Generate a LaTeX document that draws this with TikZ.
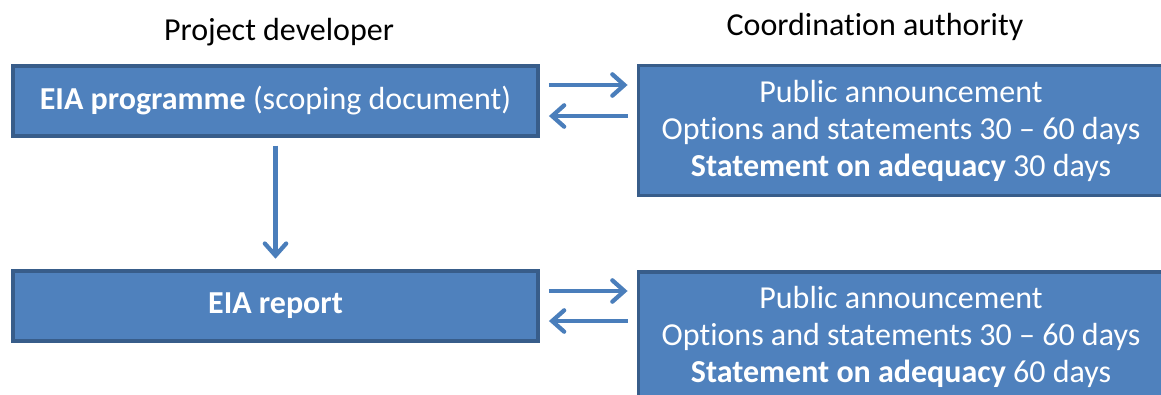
\documentclass[tikz,border=0pt]{standalone}
\usepackage{fontspec}
\setmainfont[Ligatures=NoCommon]{Carlito}
\usetikzlibrary{arrows.meta,calc}
\definecolor{boxfill}{HTML}{4F81BD}
\definecolor{boxline}{HTML}{385D8A}
\definecolor{arrowcol}{HTML}{4A7EBB}
\tikzset{
  stagebox/.style={draw=boxline, line width=2.4pt, fill=boxfill, text=white,
    inner sep=0pt, align=center, minimum width=393.75pt,
    font=\fontsize{24}{27.75}\selectfont},
  shortbox/.style={stagebox, minimum height=52.5pt},
  tallbox/.style={stagebox, minimum height=97.5pt},
  header/.style={font=\fontsize{24}{28}\selectfont, text=black, inner sep=0pt},
  flow/.style={draw=arrowcol, line width=3.2pt,
    -{Straight Barb[length=9pt,width=16pt,line cap=round]}}
}
\begin{document}
\begin{tikzpicture}[x=0.75pt,y=-0.75pt]
  \clip (0,0) rectangle (1161,394);
  \fill[white] (0,0) rectangle (1161,394);

  % column headings
  \node[header] (hdev) at (279,32) {Project developer};
  \node[header] (hauth) at (875,27) {Coordination authority};

  % developer side
  \node[shortbox] (prog) at (275.5,101) {\textbf{EIA programme} (scoping document)};
  \node[shortbox] (report) at (275.5,306) {\textbf{EIA report}};

  % authority side
  \node[tallbox] (stmt1) at (901,130.5) {Public announcement\\
    Options and statements 30 -- 60 days\\
    \textbf{Statement on adequacy} 30 days};
  \node[tallbox] (stmt2) at (901,337) {Public announcement\\
    Options and statements 30 -- 60 days\\
    \textbf{Statement on adequacy} 60 days};

  % exchanges between developer and authority
  \draw[flow, shorten <=7pt, shorten >=7pt]
    ([yshift=12pt]prog.east) -- ([yshift=12pt]prog.east -| stmt1.west);
  \draw[flow, shorten <=7pt, shorten >=7pt]
    ([yshift=-11.25pt]prog.east -| stmt1.west) -- ([yshift=-11.25pt]prog.east);
  \draw[flow, shorten <=7pt, shorten >=7pt]
    ([yshift=11.25pt]report.east) -- ([yshift=11.25pt]report.east -| stmt2.west);
  \draw[flow, shorten <=7pt, shorten >=7pt]
    ([yshift=-11.25pt]report.east -| stmt2.west) -- ([yshift=-11.25pt]report.east);

  % programme leads to report
  \draw[flow, shorten <=6pt, shorten >=8pt] (prog.south) -- (report.north);
\end{tikzpicture}
\end{document}
